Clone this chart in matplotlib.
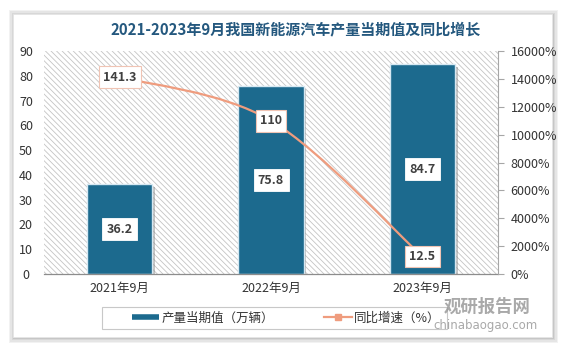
import matplotlib

matplotlib.use("Agg")
import matplotlib.pyplot as plt
import matplotlib.patheffects as pe
import numpy as np
from matplotlib.lines import Line2D
from matplotlib.patches import FancyBboxPatch, PathPatch, Rectangle
from matplotlib.path import Path
from matplotlib.ticker import FuncFormatter, MultipleLocator

plt.rcParams["font.family"] = ["Noto Sans CJK SC", "DejaVu Sans"]
plt.rcParams["hatch.linewidth"] = 0.6

# data
categories = ["2021年9月", "2022年9月", "2023年9月"]
output = [36.2, 75.8, 84.7]  # 产量当期值（万辆）
growth = [141.3, 110, 12.5]  # 同比增速（%）

title = "2021-2023年9月我国新能源汽车产量当期值及同比增长"
bar_name = "产量当期值（万辆）"
line_name = "同比增速（%）"

bar_color = "#1c6a8e"
line_color = "#ef9c7e"
text_color = "#404040"

W, H = 572, 350
fig = plt.figure(figsize=(W / 100, H / 100), dpi=100)
fig.patch.set_facecolor("white")

# card with soft shadow
for i, a in enumerate([0.05, 0.05, 0.06, 0.08]):
    grow = (4 - i) * 1.2
    fig.patches.append(
        FancyBboxPatch(
            ((13 - grow + 1) / W, 1 - (337 + grow + 1) / H),
            (539 + 2 * grow) / W,
            (323 + 2 * grow) / H,
            boxstyle="square,pad=0",
            transform=fig.transFigure,
            facecolor="black",
            edgecolor="none",
            alpha=a,
            zorder=0,
        )
    )
fig.patches.append(
    Rectangle(
        (13 / W, 1 - 337 / H),
        539 / W,
        323 / H,
        transform=fig.transFigure,
        facecolor="white",
        edgecolor="#e6e6e6",
        lw=0.6,
        zorder=1,
    )
)

ax = fig.add_axes([44 / W, 1 - 274 / H, 454 / W, 223 / H], zorder=2)
ax.set_facecolor("white")
ax.add_patch(
    Rectangle(
        (0, 0), 1, 1, transform=ax.transAxes, facecolor="white",
        edgecolor="#c4c4c4", lw=0, hatch="\\" * 6, zorder=0,
    )
)

x = np.arange(len(categories))
bars = ax.bar(x, output, width=0.43, color=bar_color, edgecolor="#d6e8f2",
              lw=1.0, zorder=2)
for b in bars:
    b.set_path_effects([pe.withSimplePatchShadow(offset=(2, -2), shadow_rgbFace="#808080", alpha=0.45)])

ax.set_xlim(-0.5, 2.5)
ax.set_ylim(0, 90)
ax.yaxis.set_major_locator(MultipleLocator(10))
ax.set_xticks(x)
ax.set_xticklabels(categories)
for s in ["top", "right", "left"]:
    ax.spines[s].set_visible(False)
ax.spines["bottom"].set_color("#8c8c8c")
ax.spines["bottom"].set_linewidth(0.9)
ax.tick_params(axis="y", length=0, pad=13, labelsize=9, labelcolor="#333333")
ax.tick_params(axis="x", length=0, pad=6, labelsize=9, labelcolor="#333333")
for lab in ax.get_yticklabels():
    lab.set_horizontalalignment("center")

for xi, v in zip(x, output):
    ax.text(xi, v / 2, f"{v}", ha="center", va="center", fontsize=9,
            fontweight="bold", color=text_color, zorder=5,
            bbox=dict(boxstyle="square,pad=0.35", fc="white", ec="white", lw=0.6))

ax2 = ax.twinx()
ax2.set_ylim(0, 160)
ax2.yaxis.set_major_locator(MultipleLocator(20))
ax2.yaxis.set_major_formatter(FuncFormatter(lambda v, p: f"{v * 100:.0f}%"))
for s in ["top", "left", "bottom"]:
    ax2.spines[s].set_visible(False)
ax2.spines["right"].set_color("#a6a6a6")
ax2.spines["right"].set_linewidth(0.8)
ax2.tick_params(axis="y", direction="out", length=4, color="#a6a6a6", pad=5,
                labelsize=9, labelcolor="#333333")

# smoothed line (Catmull-Rom -> cubic Bezier through the data points)
pts = np.column_stack([x, growth]).astype(float)
ext = np.vstack([pts[0], pts, pts[-1]])
verts = [tuple(pts[0])]
codes = [Path.MOVETO]
for i in range(len(pts) - 1):
    p0, p1, p2, p3 = ext[i], ext[i + 1], ext[i + 2], ext[i + 3]
    c1 = p1 + (p2 - p0) / 6
    c2 = p2 - (p3 - p1) / 6
    verts += [tuple(c1), tuple(c2), tuple(p2)]
    codes += [Path.CURVE4] * 3
ax2.add_patch(PathPatch(Path(verts, codes), fill=False, edgecolor=line_color,
                        lw=1.6, zorder=3))
ax2.plot(x, growth, ls="none", marker="s", ms=5, color=line_color, zorder=3)

for xi, v in zip(x, growth):
    ax2.text(xi, v, f"{v:g}", ha="center", va="center", fontsize=9,
             fontweight="bold", color=text_color, zorder=6,
             bbox=dict(boxstyle="square,pad=0.35", fc="white", ec="#f0c4b4", lw=0.8))

fig.text(296 / W, 1 - 29 / H, title, ha="center", va="center", fontsize=10.8,
         fontweight="bold", color="#24587e", zorder=3)

# legend
fig.patches.append(
    Rectangle((102 / W, 1 - 329 / H), 345 / W, 22 / H, transform=fig.transFigure,
              facecolor="white", edgecolor="#c8c8c8", lw=0.8, zorder=2)
)
handles = [
    Line2D([], [], color=bar_color, lw=4, solid_capstyle="butt"),
    Line2D([], [], color=line_color, lw=1.6, marker="s", ms=5),
]
leg = fig.legend(handles, [bar_name, line_name], loc="center",
                 bbox_to_anchor=(286 / W, 1 - 318 / H), ncol=2, frameon=False,
                 fontsize=9, handlelength=2.2, handletextpad=0.2, columnspacing=4.0)
leg.set_zorder(3)
for t in leg.get_texts():
    t.set_color("#333333")

# watermark
fig.text(487 / W, 1 - 307 / H, "观研报告网", ha="center", va="center", fontsize=12.5,
         fontweight="bold", color="#9a9a9a", alpha=0.85, zorder=4)
fig.text(485 / W, 1 - 326 / H, "chinabaogao.com", ha="center", va="center",
         fontsize=8.5, color="#9a9a9a", alpha=0.85, zorder=4, family="DejaVu Sans")

fig.savefig("out.png", dpi=100, facecolor=fig.get_facecolor())
